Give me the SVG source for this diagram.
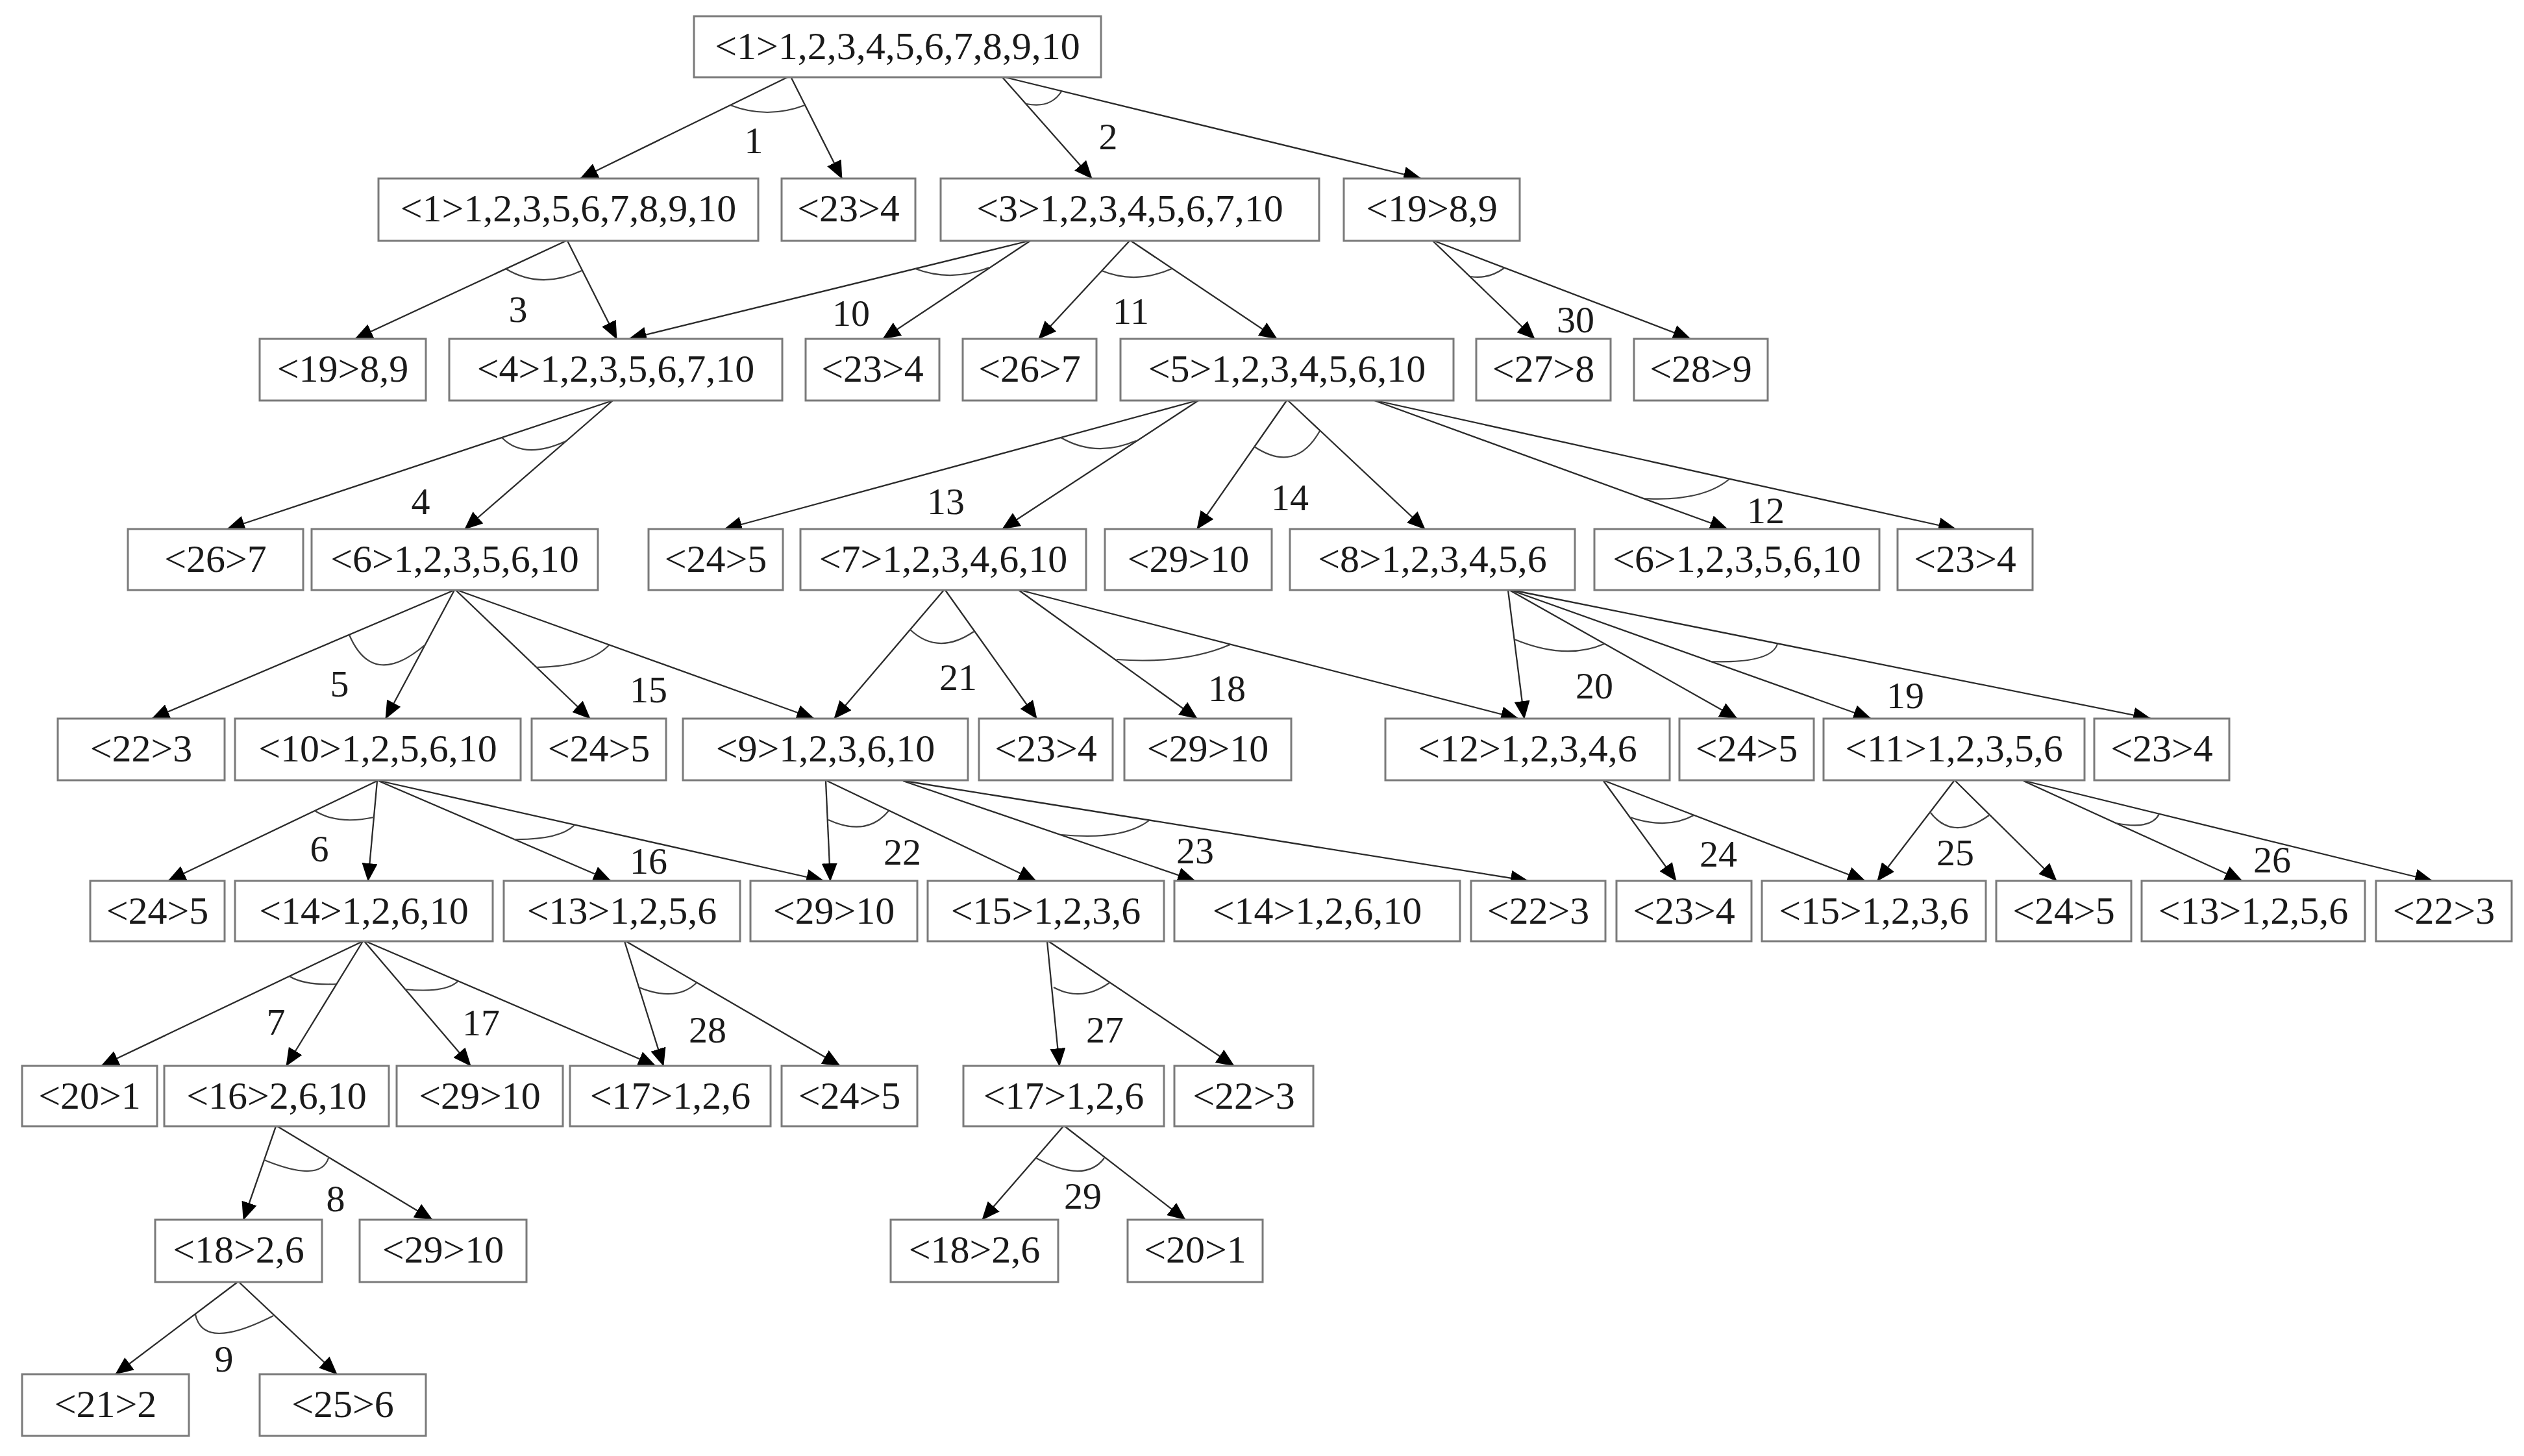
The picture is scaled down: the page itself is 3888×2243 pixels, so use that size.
<svg xmlns="http://www.w3.org/2000/svg" width="3888" height="2243" viewBox="0 0 3888 2243">
<style>
.nd rect{fill:#fff;stroke:#7a7a7a;stroke-width:3}
.nd text{font-family:"Liberation Serif","Times New Roman",serif;font-size:60px;text-anchor:middle;fill:#1a1a1a}
#edges line{stroke:#2a2a2a;stroke-width:2.3;marker-end:url(#ah)}
#arcs path{stroke:#404040;stroke-width:2.2;fill:none}
#labels text{font-family:"Liberation Serif","Times New Roman",serif;font-size:58px;text-anchor:middle;fill:#1a1a1a}
</style>
<defs>
<marker id="ah" markerUnits="userSpaceOnUse" markerWidth="28" markerHeight="24" refX="27" refY="12" orient="auto">
<path d="M0,0 L28,12 L0,24 z" fill="#000"/>
</marker>
</defs>
<rect x="0" y="0" width="3888" height="2243" fill="#fff"/>
<g id="edges">
<line x1="1213" y1="119" x2="894" y2="275"/>
<line x1="1219" y1="120" x2="1297" y2="275"/>
<line x1="1544" y1="119" x2="1682" y2="275"/>
<line x1="1548" y1="119" x2="2189" y2="275"/>
<line x1="872" y1="371" x2="547" y2="522"/>
<line x1="874" y1="371" x2="950" y2="522"/>
<line x1="1585" y1="371" x2="969" y2="522"/>
<line x1="1587" y1="371" x2="1360" y2="522"/>
<line x1="1740" y1="371" x2="1600" y2="522"/>
<line x1="1742" y1="371" x2="1967" y2="522"/>
<line x1="2207" y1="371" x2="2364" y2="522"/>
<line x1="2209" y1="371" x2="2604" y2="522"/>
<line x1="944" y1="617" x2="350" y2="815"/>
<line x1="944" y1="617" x2="716" y2="815"/>
<line x1="1844" y1="617" x2="1116" y2="815"/>
<line x1="1846" y1="617" x2="1544" y2="815"/>
<line x1="1982" y1="617" x2="1844" y2="815"/>
<line x1="1984" y1="617" x2="2195" y2="815"/>
<line x1="2117" y1="617" x2="2661" y2="815"/>
<line x1="2119" y1="617" x2="3013" y2="815"/>
<line x1="700" y1="909" x2="234" y2="1107"/>
<line x1="700" y1="909" x2="594" y2="1107"/>
<line x1="702" y1="909" x2="909" y2="1107"/>
<line x1="704" y1="909" x2="1254" y2="1107"/>
<line x1="1454" y1="909" x2="1285" y2="1107"/>
<line x1="1456" y1="909" x2="1597" y2="1107"/>
<line x1="1569" y1="909" x2="1844" y2="1107"/>
<line x1="1571" y1="909" x2="2339" y2="1107"/>
<line x1="2323" y1="909" x2="2348" y2="1107"/>
<line x1="2325" y1="909" x2="2676" y2="1107"/>
<line x1="2327" y1="909" x2="2882" y2="1107"/>
<line x1="2329" y1="909" x2="3313" y2="1107"/>
<line x1="581" y1="1203" x2="259" y2="1357"/>
<line x1="581" y1="1203" x2="567" y2="1357"/>
<line x1="583" y1="1203" x2="941" y2="1357"/>
<line x1="585" y1="1203" x2="1269" y2="1357"/>
<line x1="1272" y1="1203" x2="1279" y2="1357"/>
<line x1="1274" y1="1203" x2="1596" y2="1357"/>
<line x1="1391" y1="1203" x2="1841" y2="1357"/>
<line x1="1393" y1="1203" x2="2354" y2="1357"/>
<line x1="2470" y1="1203" x2="2582" y2="1357"/>
<line x1="2472" y1="1203" x2="2873" y2="1357"/>
<line x1="3010" y1="1203" x2="2892" y2="1357"/>
<line x1="3012" y1="1203" x2="3168" y2="1357"/>
<line x1="3117" y1="1203" x2="3454" y2="1357"/>
<line x1="3119" y1="1203" x2="3747" y2="1357"/>
<line x1="559" y1="1450" x2="156" y2="1642"/>
<line x1="559" y1="1450" x2="441" y2="1642"/>
<line x1="561" y1="1450" x2="725" y2="1642"/>
<line x1="563" y1="1450" x2="1010" y2="1642"/>
<line x1="962" y1="1450" x2="1022" y2="1642"/>
<line x1="964" y1="1450" x2="1294" y2="1642"/>
<line x1="1613" y1="1450" x2="1632" y2="1642"/>
<line x1="1615" y1="1450" x2="1901" y2="1642"/>
<line x1="425" y1="1735" x2="375" y2="1879"/>
<line x1="427" y1="1735" x2="666" y2="1879"/>
<line x1="1638" y1="1735" x2="1513" y2="1879"/>
<line x1="1640" y1="1735" x2="1826" y2="1879"/>
<line x1="366" y1="1975" x2="178" y2="2117"/>
<line x1="368" y1="1975" x2="519" y2="2117"/>
</g>
<g id="arcs">
<path d="M1125,162 Q1181.5,184 1240,162"/>
<path d="M1581,160 Q1618,167.5 1635,141"/>
<path d="M779,414 Q832.5,446.5 896,417"/>
<path d="M1410,414 Q1465,435 1524,412"/>
<path d="M1697,417 Q1749,438.5 1805,414"/>
<path d="M2265,426 Q2293,430.5 2317,413"/>
<path d="M773,674 Q807,709.5 873,679"/>
<path d="M1634,674 Q1688,705.5 1750,679"/>
<path d="M1932,688 Q1995.5,730 2033,664"/>
<path d="M2532,768 Q2622,773 2664,738"/>
<path d="M538,978 Q574,1062 654,994"/>
<path d="M826,1028 Q906,1027 938,994"/>
<path d="M1402,970 Q1445,1010.5 1500,973"/>
<path d="M1720,1016 Q1824.5,1023.5 1895,993"/>
<path d="M2333,985 Q2412,1017.5 2471,992"/>
<path d="M2633,1019 Q2728.5,1022.5 2738,992"/>
<path d="M485,1249 Q519.5,1271 576,1259"/>
<path d="M791,1293 Q862,1294 885,1271"/>
<path d="M1276,1263 Q1335.5,1290 1369,1249"/>
<path d="M1635,1286 Q1729.5,1295 1770,1264"/>
<path d="M2511,1259 Q2568,1278.5 2609,1256"/>
<path d="M2973,1251 Q3007.5,1296.5 3064,1256"/>
<path d="M3259,1268 Q3313.5,1279 3326,1254"/>
<path d="M446,1504 Q468,1518 518,1516"/>
<path d="M623,1524 Q686,1530 705,1512"/>
<path d="M984,1521 Q1041.5,1544.5 1073,1514"/>
<path d="M1623,1521 Q1666,1544.5 1709,1514"/>
<path d="M407,1787 Q493.5,1822.5 506,1784"/>
<path d="M1596,1784 Q1671.5,1824 1701,1784"/>
<path d="M301,2025 Q313,2082 421,2027"/>
</g>
<g id="labels">
<text x="1161" y="236">1</text>
<text x="1707" y="230">2</text>
<text x="798" y="496">3</text>
<text x="1311" y="502">10</text>
<text x="1742" y="499">11</text>
<text x="2427" y="512">30</text>
<text x="648" y="792">4</text>
<text x="1457" y="792">13</text>
<text x="1987" y="786">14</text>
<text x="2720" y="806">12</text>
<text x="523" y="1073">5</text>
<text x="999" y="1082">15</text>
<text x="1476" y="1063">21</text>
<text x="1890" y="1080">18</text>
<text x="2456" y="1076">20</text>
<text x="2935" y="1091">19</text>
<text x="492" y="1327">6</text>
<text x="999" y="1346">16</text>
<text x="1390" y="1332">22</text>
<text x="1841" y="1330">23</text>
<text x="2647" y="1335">24</text>
<text x="3012" y="1333">25</text>
<text x="3500" y="1344">26</text>
<text x="425" y="1594">7</text>
<text x="741" y="1595">17</text>
<text x="1090" y="1606">28</text>
<text x="1702" y="1606">27</text>
<text x="517" y="1866">8</text>
<text x="1668" y="1862">29</text>
<text x="345" y="2113">9</text>
</g>
<g id="n1" class="nd"><rect x="1069" y="25" width="627" height="94"/><text x="1382.5" y="91">&lt;1&gt;1,2,3,4,5,6,7,8,9,10</text></g>
<g id="n2" class="nd"><rect x="583" y="275" width="585" height="96"/><text x="875.5" y="341">&lt;1&gt;1,2,3,5,6,7,8,9,10</text></g>
<g id="n3" class="nd"><rect x="1204" y="275" width="206" height="96"/><text x="1307" y="341">&lt;23&gt;4</text></g>
<g id="n4" class="nd"><rect x="1449" y="275" width="583" height="96"/><text x="1740.5" y="341">&lt;3&gt;1,2,3,4,5,6,7,10</text></g>
<g id="n5" class="nd"><rect x="2070" y="275" width="271" height="96"/><text x="2205.5" y="341">&lt;19&gt;8,9</text></g>
<g id="n6" class="nd"><rect x="400" y="522" width="256" height="95"/><text x="528" y="588">&lt;19&gt;8,9</text></g>
<g id="n7" class="nd"><rect x="692" y="522" width="513" height="95"/><text x="948.5" y="588">&lt;4&gt;1,2,3,5,6,7,10</text></g>
<g id="n8" class="nd"><rect x="1241" y="522" width="206" height="95"/><text x="1344" y="588">&lt;23&gt;4</text></g>
<g id="n9" class="nd"><rect x="1483" y="522" width="206" height="95"/><text x="1586" y="588">&lt;26&gt;7</text></g>
<g id="n10" class="nd"><rect x="1726" y="522" width="513" height="95"/><text x="1982.5" y="588">&lt;5&gt;1,2,3,4,5,6,10</text></g>
<g id="n11" class="nd"><rect x="2274" y="522" width="207" height="95"/><text x="2377.5" y="588">&lt;27&gt;8</text></g>
<g id="n12" class="nd"><rect x="2517" y="522" width="206" height="95"/><text x="2620" y="588">&lt;28&gt;9</text></g>
<g id="n13" class="nd"><rect x="197" y="815" width="270" height="94"/><text x="332" y="881">&lt;26&gt;7</text></g>
<g id="n14" class="nd"><rect x="480" y="815" width="441" height="94"/><text x="700.5" y="881">&lt;6&gt;1,2,3,5,6,10</text></g>
<g id="n15" class="nd"><rect x="999" y="815" width="207" height="94"/><text x="1102.5" y="881">&lt;24&gt;5</text></g>
<g id="n16" class="nd"><rect x="1233" y="815" width="440" height="94"/><text x="1453" y="881">&lt;7&gt;1,2,3,4,6,10</text></g>
<g id="n17" class="nd"><rect x="1702" y="815" width="257" height="94"/><text x="1830.5" y="881">&lt;29&gt;10</text></g>
<g id="n18" class="nd"><rect x="1987" y="815" width="439" height="94"/><text x="2206.5" y="881">&lt;8&gt;1,2,3,4,5,6</text></g>
<g id="n19" class="nd"><rect x="2456" y="815" width="439" height="94"/><text x="2675.5" y="881">&lt;6&gt;1,2,3,5,6,10</text></g>
<g id="n20" class="nd"><rect x="2923" y="815" width="208" height="94"/><text x="3027" y="881">&lt;23&gt;4</text></g>
<g id="n21" class="nd"><rect x="89" y="1107" width="257" height="95"/><text x="217.5" y="1173">&lt;22&gt;3</text></g>
<g id="n22" class="nd"><rect x="362" y="1107" width="440" height="95"/><text x="582" y="1173">&lt;10&gt;1,2,5,6,10</text></g>
<g id="n23" class="nd"><rect x="819" y="1107" width="207" height="95"/><text x="922.5" y="1173">&lt;24&gt;5</text></g>
<g id="n24" class="nd"><rect x="1052" y="1107" width="439" height="95"/><text x="1271.5" y="1173">&lt;9&gt;1,2,3,6,10</text></g>
<g id="n25" class="nd"><rect x="1508" y="1107" width="206" height="95"/><text x="1611" y="1173">&lt;23&gt;4</text></g>
<g id="n26" class="nd"><rect x="1732" y="1107" width="257" height="95"/><text x="1860.5" y="1173">&lt;29&gt;10</text></g>
<g id="n27" class="nd"><rect x="2134" y="1107" width="438" height="95"/><text x="2353" y="1173">&lt;12&gt;1,2,3,4,6</text></g>
<g id="n28" class="nd"><rect x="2587" y="1107" width="207" height="95"/><text x="2690.5" y="1173">&lt;24&gt;5</text></g>
<g id="n29" class="nd"><rect x="2809" y="1107" width="402" height="95"/><text x="3010" y="1173">&lt;11&gt;1,2,3,5,6</text></g>
<g id="n30" class="nd"><rect x="3226" y="1107" width="208" height="95"/><text x="3330" y="1173">&lt;23&gt;4</text></g>
<g id="n31" class="nd"><rect x="139" y="1357" width="207" height="93"/><text x="242.5" y="1423">&lt;24&gt;5</text></g>
<g id="n32" class="nd"><rect x="362" y="1357" width="397" height="93"/><text x="560.5" y="1423">&lt;14&gt;1,2,6,10</text></g>
<g id="n33" class="nd"><rect x="776" y="1357" width="364" height="93"/><text x="958" y="1423">&lt;13&gt;1,2,5,6</text></g>
<g id="n34" class="nd"><rect x="1156" y="1357" width="257" height="93"/><text x="1284.5" y="1423">&lt;29&gt;10</text></g>
<g id="n35" class="nd"><rect x="1429" y="1357" width="364" height="93"/><text x="1611" y="1423">&lt;15&gt;1,2,3,6</text></g>
<g id="n36" class="nd"><rect x="1809" y="1357" width="440" height="93"/><text x="2029" y="1423">&lt;14&gt;1,2,6,10</text></g>
<g id="n37" class="nd"><rect x="2266" y="1357" width="207" height="93"/><text x="2369.5" y="1423">&lt;22&gt;3</text></g>
<g id="n38" class="nd"><rect x="2490" y="1357" width="208" height="93"/><text x="2594" y="1423">&lt;23&gt;4</text></g>
<g id="n39" class="nd"><rect x="2714" y="1357" width="345" height="93"/><text x="2886.5" y="1423">&lt;15&gt;1,2,3,6</text></g>
<g id="n40" class="nd"><rect x="3075" y="1357" width="208" height="93"/><text x="3179" y="1423">&lt;24&gt;5</text></g>
<g id="n41" class="nd"><rect x="3299" y="1357" width="344" height="93"/><text x="3471" y="1423">&lt;13&gt;1,2,5,6</text></g>
<g id="n42" class="nd"><rect x="3660" y="1357" width="209" height="93"/><text x="3764.5" y="1423">&lt;22&gt;3</text></g>
<g id="n43" class="nd"><rect x="34" y="1642" width="208" height="93"/><text x="138" y="1708">&lt;20&gt;1</text></g>
<g id="n44" class="nd"><rect x="253" y="1642" width="346" height="93"/><text x="426" y="1708">&lt;16&gt;2,6,10</text></g>
<g id="n45" class="nd"><rect x="611" y="1642" width="256" height="93"/><text x="739" y="1708">&lt;29&gt;10</text></g>
<g id="n46" class="nd"><rect x="878" y="1642" width="309" height="93"/><text x="1032.5" y="1708">&lt;17&gt;1,2,6</text></g>
<g id="n47" class="nd"><rect x="1204" y="1642" width="209" height="93"/><text x="1308.5" y="1708">&lt;24&gt;5</text></g>
<g id="n48" class="nd"><rect x="1484" y="1642" width="309" height="93"/><text x="1638.5" y="1708">&lt;17&gt;1,2,6</text></g>
<g id="n49" class="nd"><rect x="1809" y="1642" width="214" height="93"/><text x="1916" y="1708">&lt;22&gt;3</text></g>
<g id="n50" class="nd"><rect x="239" y="1879" width="257" height="96"/><text x="367.5" y="1945">&lt;18&gt;2,6</text></g>
<g id="n51" class="nd"><rect x="554" y="1879" width="257" height="96"/><text x="682.5" y="1945">&lt;29&gt;10</text></g>
<g id="n52" class="nd"><rect x="1372" y="1879" width="258" height="96"/><text x="1501" y="1945">&lt;18&gt;2,6</text></g>
<g id="n53" class="nd"><rect x="1737" y="1879" width="208" height="96"/><text x="1841" y="1945">&lt;20&gt;1</text></g>
<g id="n54" class="nd"><rect x="34" y="2117" width="257" height="95"/><text x="162.5" y="2183">&lt;21&gt;2</text></g>
<g id="n55" class="nd"><rect x="400" y="2117" width="256" height="95"/><text x="528" y="2183">&lt;25&gt;6</text></g>
</svg>
